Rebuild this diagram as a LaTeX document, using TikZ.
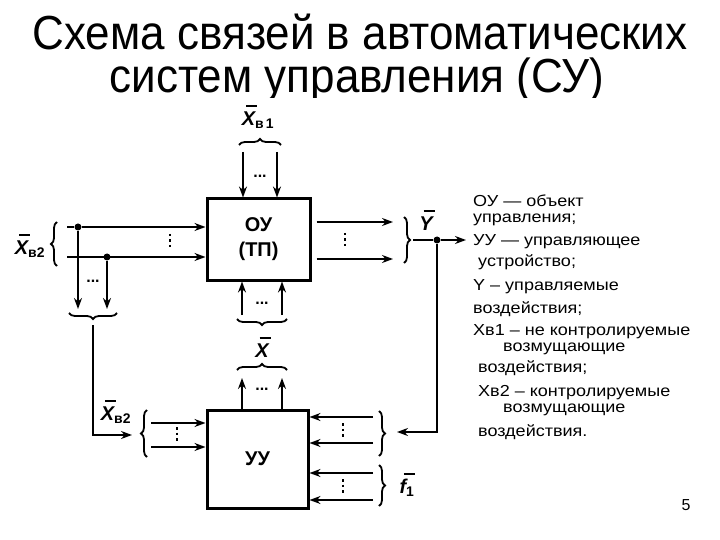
\documentclass[tikz,border=0pt]{standalone}
\usepackage{fontspec}
\setmainfont{Liberation Sans}
\newfontfamily\titulfont[FakeStretch=0.92]{Liberation Sans}
\newfontfamily\poyasnfont[FakeStretch=1.13]{Liberation Sans}
\usetikzlibrary{arrows.meta,decorations.pathreplacing}
\tikzset{
  titul/.style={anchor=base,font=\titulfont\fontsize{48}{50}\selectfont,inner sep=0pt},
  blok/.style={draw,line width=3bp,font=\fontsize{20}{25}\selectfont\bfseries,align=center,inner sep=0pt},
  sig/.style={line width=2.2bp,-{Stealth[length=11bp,width=8bp]}},
  liniya/.style={line width=2.2bp},
  tochki/.style={line width=2.2bp,dash pattern=on 2.5bp off 3bp},
  tochka/.style={circle,fill,inner sep=0pt,minimum size=7bp},
  skobka/.style={line width=1.8bp,decorate,decoration={brace,amplitude=6bp}},
  oboz/.style={font=\fontsize{20}{22}\selectfont\bfseries\itshape,inner sep=0pt},
  mnogo/.style={font=\fontsize{16}{16}\selectfont\bfseries,inner sep=0pt},
  poyasn/.style={anchor=base west,font=\poyasnfont\fontsize{16}{16}\selectfont,inner sep=0pt},
}
\newcommand{\cherta}[1]{\makebox[0pt][l]{\hspace{0.22em}\rule[0.92em]{0.55em}{1.8bp}}#1}
\newcommand{\vekt}[2]{\cherta{#1}\textsubscript{\upshape #2}}
\begin{document}
\begin{tikzpicture}[x=1bp,y=-1bp]
  \useasboundingbox (0,0) rectangle (720,540);
  \node[titul,text depth=0pt] (t1) at (360,50) {Схема связей в автоматических};
  \node[titul,text height=30bp] (t2) at (357,93) {систем управления (СУ)};
  \fill[white] (0,98) rectangle (720,540);
  \node[blok,minimum width=103bp,minimum height=81bp] (ou) at (258.5,239.5) {ОУ\\(ТП)};
  \node[blok,minimum width=101bp,minimum height=98bp] (uu) at (257.5,459) {УУ};
  % Xв1
  \coordinate (b1) at (243,152);
  \coordinate (b2) at (277,152);
  \draw[sig] (b1) -- (b1 |- ou.north);
  \draw[sig] (b2) -- (b2 |- ou.north);
  \node[mnogo] (m1) at (260,176) {...};
  \draw[skobka] (239,145) -- (281,145);
  \node[oboz] (xb1) at (258,117) {\vekt{X}{в\,1}};
  % Y
  \coordinate (y1) at (393,222);
  \coordinate (y2) at (393,259);
  \draw[sig,shorten <=5bp] (y1 -| ou.east) -- (y1);
  \draw[sig,shorten <=5bp] (y2 -| ou.east) -- (y2);
  \draw[tochki] (345,233) -- (345,249);
  \draw[skobka] (404,217) -- (404,263);
  \coordinate (ytip) at (413,240);
  \node[tochka] (ydot) at (437,240) {};
  \coordinate (yout) at (466,240);
  \draw[liniya] (ytip) -- (ydot);
  \draw[sig] (ydot) -- (yout);
  \node[oboz] (ylbl) at (426,220) {\cherta{Y}};
  \coordinate (fb) at (397,432);
  \draw[sig] (ydot) |- (fb);
  % f1
  \foreach \n/\yy in {1/417,2/443,3/473,4/500}{
    \coordinate (f\n) at (373,\yy);
    \draw[sig] (f\n) -- (f\n -| uu.east);
  }
  \draw[tochki] (343,423) -- (343,439);
  \draw[tochki] (343,479) -- (343,495);
  \draw[skobka] (379,411) -- (379,456);
  \draw[skobka] (379,465) -- (379,506);
  \node[oboz] (fl) at (407,485) {\vekt{f}{1}};
  % X
  \foreach \n/\xx in {1/242,2/282}{
    \coordinate (xu\n) at (\xx,378);
    \draw[sig] (xu\n |- uu.north) -- (xu\n);
    \coordinate (xo\n) at (\xx,315);
    \draw[sig] (xo\n) -- (xo\n |- ou.south);
  }
  \node[mnogo] (m3) at (262,389) {...};
  \node[mnogo] (m2) at (262,303) {...};
  \draw[skobka] (237,370) -- (287,370);
  \draw[skobka] (287,319) -- (237,319);
  \node[oboz] (xl) at (262,347) {\cherta{X}};
  % Xв2
  \coordinate (in1) at (67,227);
  \coordinate (in2) at (67,257);
  \node[tochka] (d1) at (78,227) {};
  \node[tochka] (d2) at (107,257) {};
  \draw[liniya] (in1) -- (d1);
  \draw[sig] (d1) -- (d1 -| ou.west);
  \draw[sig] (in2) -- (in2 -| ou.west);
  \coordinate (dn1) at (78,309);
  \coordinate (dn2) at (107,309);
  \draw[sig] (d1) -- (dn1);
  \draw[sig] (d2) -- (dn2);
  \node[mnogo] (m4) at (93,281) {...};
  \draw[tochki] (170,234) -- (170,250);
  \draw[skobka] (57,266) -- (57,222);
  \node[oboz] (xb2a) at (30,246) {\vekt{X}{в2}};
  \draw[skobka] (117,313) -- (69,313);
  \coordinate (ob1) at (93,325);
  \coordinate (ob2) at (132,435);
  \draw[sig] (ob1) |- (ob2);
  \draw[skobka] (147,457) -- (147,410);
  \coordinate (ul1) at (151,423);
  \coordinate (ul2) at (151,447);
  \draw[sig] (ul1) -- (ul1 -| uu.west);
  \draw[sig] (ul2) -- (ul2 -| uu.west);
  \draw[tochki] (177,427) -- (177,443);
  \node[oboz] (xb2b) at (116,412) {\vekt{X}{в2}};
  % poyasneniya
  \node[poyasn] (p1) at (473,207) {ОУ — объект};
  \node[poyasn] (p2) at (473,223) {управления;};
  \node[poyasn] (p3) at (473,246) {УУ — управляющее};
  \node[poyasn] (p4) at (478,267) {устройство;};
  \node[poyasn] (p5) at (473,290) {Y – управляемые};
  \node[poyasn] (p6) at (473,313) {воздействия;};
  \node[poyasn] (p7) at (473,335) {Хв1 – не контролируемые};
  \node[poyasn] (p8) at (503,351) {возмущающие};
  \node[poyasn] (p9) at (478,372) {воздействия;};
  \node[poyasn] (p10) at (478,396) {Хв2 – контролируемые};
  \node[poyasn] (p11) at (503,412) {возмущающие};
  \node[poyasn] (p12) at (478,436) {воздействия.};
  \node[font=\fontsize{16}{16}\selectfont] (nom) at (686,505) {5};
\end{tikzpicture}
\end{document}
